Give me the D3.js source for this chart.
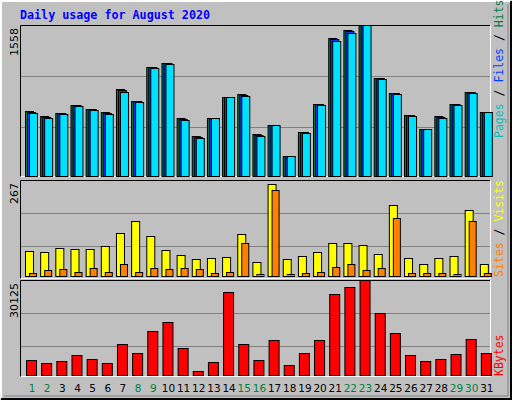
<!DOCTYPE html><html><head><meta charset="utf-8">
<script src="https://cdn.jsdelivr.net/npm/d3@7"></script>
<style>body{margin:0;background:#fff}</style></head><body>
<svg id="c" width="512" height="400"></svg>
<script>
const days=d3.range(1,32).map(String);
const weekend=["1","2","8","9","15","16","22","23","29","30"];
const hits=[679,628,659,740,699,669,903,781,1127,1168,608,425,608,822,852,445,537,221,465,750,1422,1504,1558,1015,862,638,496,628,750,872,669];
const files=[669,620,659,740,699,662,893,781,1127,1168,600,418,608,822,842,440,537,221,465,750,1412,1494,1558,1015,862,638,496,620,750,872,669];
const pages=[660,612,655,738,697,655,880,779,1125,1165,592,410,606,820,830,432,535,219,463,748,1400,1480,1555,1013,860,636,494,612,748,868,667];
const visits=[75,73,84,81,81,89,124,156,116,78,65,54,57,59,121,46,256,54,62,73,97,97,92,67,200,57,40,57,62,186,40];
const sites=[18,24,27,21,30,21,42,21,30,27,30,27,18,21,99,13,241,13,16,21,33,42,24,30,166,18,16,16,13,157,16];
const kbytes=[5782,4869,5477,7303,6086,4869,10650,7912,14606,17345,9433,2434,5173,26474,10650,5782,11868,4260,7912,11868,25866,27996,30125,20084,13998,7303,5477,6086,7608,12172,7912];
const maxHits=1558,maxVisits=267,maxKB=30125;

const svg=d3.select("#c");
svg.append("rect").attr("x",0).attr("y",0).attr("width",512).attr("height",400).attr("fill","#c0c0c0");
svg.append("path").attr("d","M1,399V1H511").attr("stroke","#fff").attr("stroke-width",2).attr("fill","none");
svg.append("path").attr("d","M1,399H511V1").attr("stroke","#000").attr("stroke-width",2).attr("fill","none");
svg.append("path").attr("d","M4,396H508V4").attr("stroke","#808080").attr("stroke-width",1).attr("fill","none");
svg.append("text").attr("x",20).attr("y",19).text("Daily usage for August 2020")
 .attr("font-family","DejaVu Sans Mono").attr("font-weight","bold").attr("font-size",11.7).attr("fill","#0000ff");

const x=d3.scaleBand().domain(days).range([21,491]).paddingInner(0);
function frame(y0,y1){
  svg.append("path").attr("d",`M20.5,${y1}V${y0+.5}H491`).attr("stroke","#000").attr("fill","none");
  svg.append("path").attr("d",`M20.5,${y1-.5}H490.5V${y0}`).attr("stroke","#fff").attr("fill","none");
}
function grid(y,max){
  [max/3,2*max/3].forEach(v=>svg.append("line").attr("x1",21).attr("x2",490).attr("y1",Math.round(y(v))+.5).attr("y2",Math.round(y(v))+.5).attr("stroke","#808080"));
}
function bar(g,data,y,bottom,dx,w,fill){
  g.selectAll(null).data(data).enter().append("rect")
   .attr("x",(d,i)=>x(days[i])+dx+.5).attr("width",w)
   .attr("y",d=>Math.round(y(d))+.5).attr("height",d=>Math.max(0,bottom-Math.round(y(d))-1))
   .attr("fill",fill).attr("stroke","#000");
}
function leftLabel(txt,yTop){
  svg.append("text").attr("transform",`translate(18,${yTop}) rotate(-90)`).attr("text-anchor","end")
   .attr("font-family","DejaVu Sans").attr("font-size",11).attr("fill","#000").text(txt);
}
function rightLabel(parts,yBottom){
  const t=svg.append("text").attr("transform",`translate(503,${yBottom}) rotate(-90)`)
   .attr("font-family","DejaVu Sans Mono").attr("font-size",11.5);
  parts.forEach(p=>t.append("tspan").attr("fill",p[1]).text(p[0]));
}

// top panel
frame(25,177);
const y1=d3.scaleLinear().domain([0,maxHits]).range([178,25]);
grid(y1,maxHits);
const g1=svg.append("g");
bar(g1,hits,y1,177,4,8,"#008040");
bar(g1,files,y1,177,6,8,"#0040ff");
bar(g1,pages,y1,177,8,8,"#00e0ff");
leftLabel("1558",28);
rightLabel([["Pages","#00c0c0"],[" / ","#000"],["Files","#0040ff"],[" / ","#000"],["Hits","#008040"]],138);

// middle panel
frame(180,279);
const y2=d3.scaleLinear().domain([0,maxVisits]).range([279.3,180.3]);
grid(y2,maxVisits);
const g2=svg.append("g");
bar(g2,visits,y2,277,4,8,"#ffff00");
bar(g2,sites,y2,277,8,7,"#ff8000");
leftLabel("267",183);
rightLabel([["Sites","#ff8000"],[" / ","#000"],["Visits","#ffff00"]],277);

// bottom panel
frame(280,377);
const y3=d3.scaleLinear().domain([0,maxKB]).range([379.3,280.3]);
grid(y3,maxKB);
bar(svg.append("g"),kbytes,y3,376,5,10,"#ff0000");
leftLabel("30125",283);
rightLabel([["KBytes","#ff0000"]],376);

// day labels
svg.selectAll(null).data(days).enter().append("text")
 .attr("x",d=>x(d)+11).attr("y",392).attr("text-anchor","middle")
 .attr("font-family","DejaVu Sans").attr("font-size",10.5)
 .attr("fill",d=>weekend.includes(d)?"#008040":"#000").text(d=>d);
</script></body></html>
